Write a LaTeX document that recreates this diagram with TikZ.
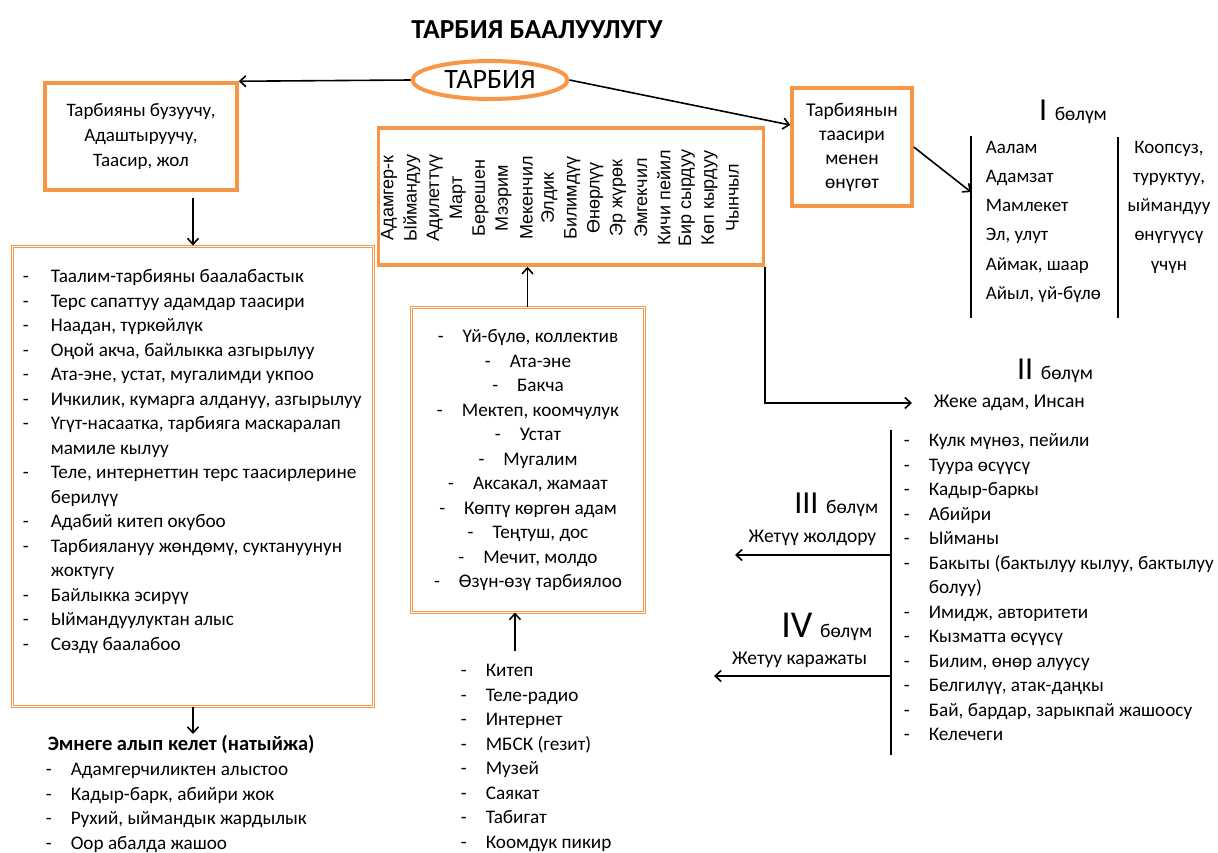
\documentclass[tikz,border=0pt]{standalone}
\usepackage{fontspec}
\setmainfont{Carlito}
\newfontfamily\arialf{Liberation Sans}
\usetikzlibrary{shapes.geometric,arrows.meta}
\definecolor{borange}{HTML}{F79646}
\newcommand{\bodyfnt}{\fontsize{19.2}{24.5}\selectfont}
\newcommand{\romfnt}{\fontsize{32}{32}\selectfont}

\begin{document}
\begin{tikzpicture}[x=1pt,y=-1pt,
  >={Straight Barb[length=6pt,width=11pt]},
  line width=1.6pt,
  obox/.style={draw=borange, line width=3.5pt, align=center, inner sep=0pt},
  dbox/.style={draw=borange, line width=1pt, double=white, double distance=1pt, inner sep=0pt},
  vword/.style={rotate=90, font=\arialf\fontsize{18}{20}\selectfont, inner sep=0pt},
  lst/.style={anchor=north west, inner sep=0pt, font=\bodyfnt},
  sect/.style={font=\fontsize{19.5}{24}\selectfont, inner sep=0pt}]
\useasboundingbox (0,0) rectangle (1218,852);

% top
\node[font=\bfseries\fontsize{27.5}{30}\selectfont] (title) at (537,30) {ТАРБИЯ БААЛУУЛУГУ};
\node[ellipse, draw=borange, line width=4pt, minimum width=155pt, minimum height=38pt,
  inner sep=0pt, font=\fontsize{28}{30}\selectfont] (tarb) at (490,80) {ТАРБИЯ};

% left branch
\node[obox, minimum width=192pt, minimum height=107pt, font=\fontsize{19}{25}\selectfont]
  (buz) at (141,136.5) {Тарбияны бузуучу,\\Адаштыруучу,\\Таасир, жол};
\node[dbox, minimum width=361pt, minimum height=460pt] (neg) at (193,476) {};
\node[lst] (neglist) at (22,265) {\begin{tabular}{@{}p{28pt}@{}l@{}}
- & Таалим-тарбияны баалабастык\\
- & Терс сапаттуу адамдар таасири\\
- & Наадан, түркөйлүк\\
- & Оңой акча, байлыкка азгырылуу\\
- & Ата-эне, устат, мугалимди укпоо\\
- & Ичкилик, кумарга алдануу, азгырылуу\\
- & Үгүт-насаатка, тарбияга маскаралап\\
  & мамиле кылуу\\
- & Теле, интернеттин терс таасирлерине\\
  & берилүү\\
- & Адабий китеп окубоо\\
- & Тарбиялануу жөндөмү, суктануунун\\
  & жоктугу\\
- & Байлыкка эсирүү\\
- & Ыймандуулуктан алыс\\
- & Сөздү баалабоо
\end{tabular}};
\node[anchor=north west, inner sep=0pt, font=\bfseries\fontsize{20.5}{24.5}\selectfont]
  (res) at (47,734) {Эмнеге алып келет (натыйжа)};
\node[lst] (reslist) at (45,758) {\begin{tabular}{@{}p{25pt}@{}l@{}}
- & Адамгерчиликтен алыстоо\\
- & Кадыр-барк, абийри жок\\
- & Рухий, ыймандык жардылык\\
- & Оор абалда жашоо
\end{tabular}};

\draw[->] (tarb.west) -- (buz.north east);
\draw[->] ([yshift=-6pt]buz.south -| neg.north) -- (neg.north);
\draw[->] (neg.south) -- (neg.south |- res.north);

% middle
\node[obox, minimum width=385pt, minimum height=137pt] (virt) at (571,196.5) {};
\foreach \w [count=\i] in {Адамгер-к, Ыймандуу, Адилеттүү, Март, Берешен, Мээрим,
  Мекенчил, Элдик, Билимдүү, Өнөрлүү, Эр жүрөк, Эмгекчил, Кичи пейил, Бир сырдуу,
  Көп кырдуу, Чынчыл}
  \node[vword] (w\i) at (389+22.9*\i-22.9,198) {\w};

\node[dbox, minimum width=233pt, minimum height=305pt] (mid) at (527.5,459.5) {};
\node[font=\bodyfnt, align=center, inner sep=0pt, anchor=north] (midlist) at (528,329)
  {-\hspace{19pt}Үй-бүлө, коллектив\\
   -\hspace{19pt}Ата-эне\\
   -\hspace{19pt}Бакча\\
   -\hspace{19pt}Мектеп, коомчулук\\
   -\hspace{19pt}Устат\\
   -\hspace{19pt}Мугалим\\
   -\hspace{19pt}Аксакал, жамаат\\
   -\hspace{19pt}Көптү көргөн адам\\
   -\hspace{19pt}Теңтуш, дос\\
   -\hspace{19pt}Мечит, молдо\\
   -\hspace{19pt}Өзүн-өзү тарбиялоо};
\node[lst] (media) at (460,659) {\begin{tabular}{@{}p{25pt}@{}l@{}}
- & Китеп\\
- & Теле-радио\\
- & Интернет\\
- & МБСК (гезит)\\
- & Музей\\
- & Саякат\\
- & Табигат\\
- & Коомдук пикир
\end{tabular}};
\coordinate (mtop) at (515,651);

\draw[->] (mid.north) -- (mid.north |- virt.south);
\draw[->] (mtop) -- (mtop |- mid.south);

% right
\node[obox, minimum width=120pt, minimum height=118pt, font=\fontsize{19.5}{24}\selectfont]
  (eff) at (852,147) {Тарбиянын\\таасири\\менен\\өнүгөт};
\draw[->] (tarb.east) -- ([yshift=22pt]eff.west);

\node[sect] (h1) at (1073,112) {{\romfnt I}\, бөлүм};
\coordinate (s1top) at (971,136);
\coordinate (s1bot) at (971,318);
\coordinate (s1in) at (971,192);
\coordinate (s1rtop) at (1118,137);
\coordinate (s1rbot) at (1118,318);
\draw (s1top) -- (s1bot);
\draw (s1rtop) -- (s1rbot);
\draw[->] (eff.east) -- (s1in);
\node[lst, font=\fontsize{19}{29.2}\selectfont] (s1list) at (985,132)
  {\begin{tabular}{@{}l@{}}Аалам\\Адамзат\\Мамлекет\\Эл, улут\\Аймак, шаар\\Айыл, үй-бүлө\end{tabular}};
\node[lst, anchor=north, align=center, font=\fontsize{19}{29.2}\selectfont] (s1goal) at (1169,132)
  {\begin{tabular}{@{}c@{}}Коопсуз,\\туруктуу,\\ыймандуу\\өнүгүүсү\\үчүн\end{tabular}};

\node[sect] (h2) at (1055,371) {{\romfnt II}\, бөлүм};
\node[sect, anchor=west] (per) at (933,403) {Жеке адам, Инсан};
\draw[->] (virt.south east) |- ([xshift=-21pt]per.west);

\coordinate (s3top) at (891,430);
\coordinate (s3bot) at (891,755);
\draw (s3top) -- (s3bot);
\node[lst] (s3list) at (903,429) {\begin{tabular}{@{}p{25pt}@{}l@{}}
- & Кулк мүнөз, пейили\\
- & Туура өсүүсү\\
- & Кадыр-баркы\\
- & Абийри\\
- & Ыйманы\\
- & Бакыты (бактылуу кылуу, бактылуу\\
  & болуу)\\
- & Имидж, авторитети\\
- & Кызматта өсүүсү\\
- & Билим, өнөр алуусу\\
- & Белгилүү, атак-даңкы\\
- & Бай, бардар, зарыкпай жашоосу\\
- & Келечеги
\end{tabular}};

\node[sect, anchor=east] (h3) at (879,505) {{\romfnt III}\, бөлүм};
\node[sect, anchor=east] (way) at (877,538) {Жетүү жолдору};
\coordinate (j3) at (891,555);
\coordinate (w3) at (735,555);
\draw[->] (j3) -- (w3);

\node[sect, anchor=east] (h4) at (873,627) {{\fontsize{38}{38}\selectfont IV}\, бөлүм};
\node[sect, anchor=east] (mean) at (868,660) {Жетуу каражаты};
\coordinate (j4) at (891,676);
\coordinate (w4) at (714,676);
\draw[->] (j4) -- (w4);
\end{tikzpicture}
\end{document}
